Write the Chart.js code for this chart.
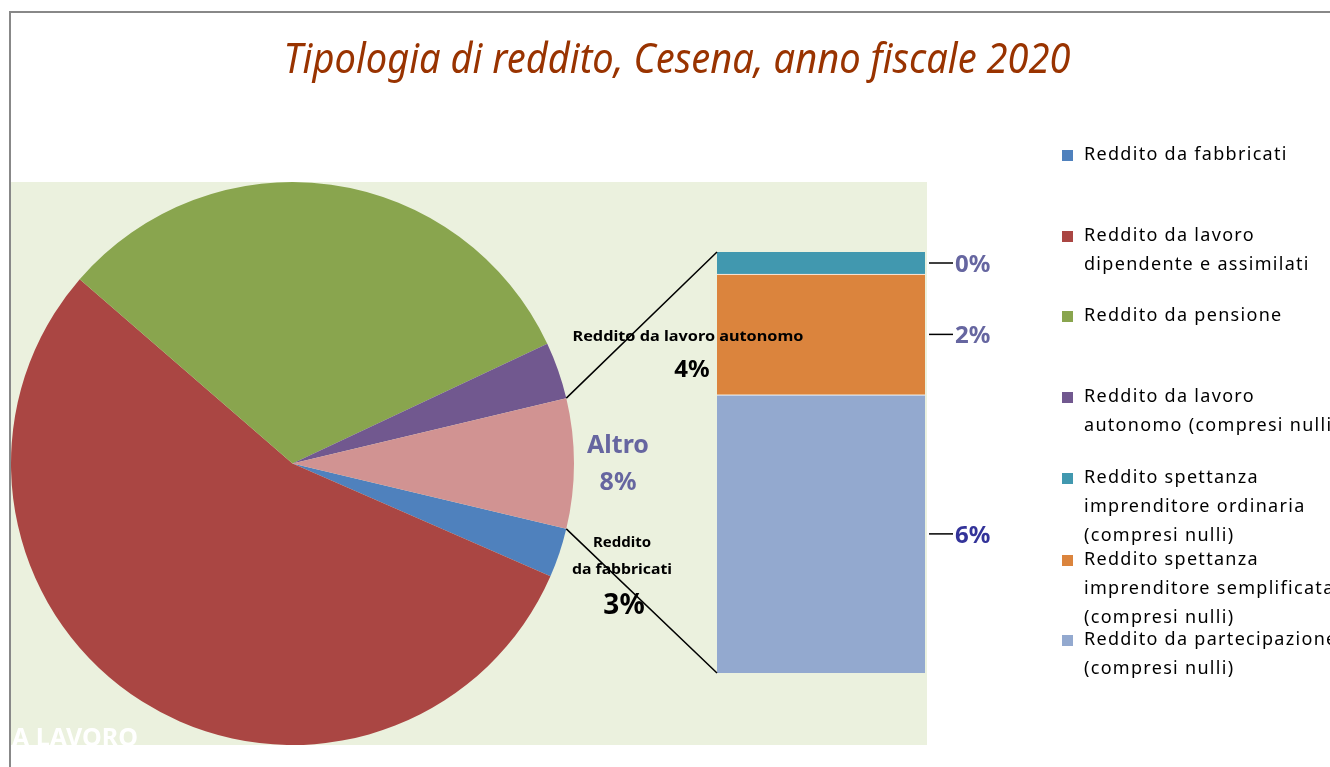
<!DOCTYPE html>
<html>
<head>
<meta charset="utf-8">
<script src="https://cdn.jsdelivr.net/npm/chart.js@4.4.1/dist/chart.umd.min.js"></script>
<style>
  html, body { margin: 0; padding: 0; background: #fff; }
  #wrap { position: relative; width: 1330px; height: 767px; overflow: hidden; }
  #wrap canvas { position: absolute; left: 0; top: 0; }
</style>
</head>
<body>
<div id="wrap">
  <canvas id="barCanvas" width="1330" height="767"></canvas>
  <canvas id="pieCanvas" width="1330" height="767"></canvas>
</div>
<script>
// pie: first four slices, the fifth ("Altro") is the sum of the bar
const pieLabels = ["Reddito da fabbricati", "Reddito da lavoro dipendente e assimilati", "Reddito da pensione", "Reddito da lavoro autonomo", "Altro"];
const pieValues = [2.83, 54.80, 31.65, 3.26];
const pieText = ["3%", "", "", "4%", "8%"];

// bar of "Altro", bottom to top
const barLabels = ["Reddito da partecipazione (compresi nulli)", "Reddito spettanza imprenditore semplificata (compresi nulli)", "Reddito spettanza imprenditore ordinaria (compresi nulli)"];
const barValues = [4.93, 2.14, 0.39];
const barText = ["6%", "2%", "0%"];

const legendItems = [
  ["Reddito da fabbricati"],
  ["Reddito da lavoro", "dipendente e assimilati"],
  ["Reddito da pensione"],
  ["Reddito da lavoro", "autonomo (compresi nulli)"],
  ["Reddito spettanza", "imprenditore ordinaria", "(compresi nulli)"],
  ["Reddito spettanza", "imprenditore semplificata", "(compresi nulli)"],
  ["Reddito da partecipazione", "(compresi nulli)"]
];

const pieColors = ["#4F81BD", "#AA4643", "#89A54E", "#71588F", "#D19392"];
const barColors = ["#93A9CF", "#DB843D", "#4198AF"];
const legendColors = ["#4F81BD", "#AA4643", "#89A54E", "#71588F", "#4198AF", "#DB843D", "#93A9CF"];
const legendY = [155, 236, 316, 397, 478, 560, 640];
const plotBg = "#EBF1DE";
const FONT = "'Noto Sans', 'Open Sans', sans-serif";

const altroTotal = barValues.reduce((a, b) => a + b, 0);

// text helper, squeezes horizontally when a width is given
function drawText(ctx, text, x, y, font, color, align, width) {
  ctx.save();
  ctx.font = font;
  ctx.fillStyle = color;
  ctx.textBaseline = "middle";
  ctx.textAlign = align || "left";
  let s = 1;
  if (width) s = width / ctx.measureText(text).width;
  ctx.translate(x, y);
  ctx.scale(s, 1);
  ctx.fillText(text, 0, 0);
  ctx.restore();
}

const backdrop = {
  id: "backdrop",
  beforeDraw(chart) {
    const ctx = chart.ctx;
    ctx.save();
    ctx.fillStyle = "#fff";
    ctx.fillRect(0, 0, chart.width, chart.height);
    // outer frame
    ctx.strokeStyle = "#888";
    ctx.lineWidth = 2;
    ctx.beginPath();
    ctx.moveTo(10, chart.height);
    ctx.lineTo(10, 12);
    ctx.lineTo(chart.width, 12);
    ctx.stroke();
    // plot area
    ctx.fillStyle = plotBg;
    ctx.fillRect(11, 182, 916, 563);
    ctx.restore();

    drawText(ctx, "Tipologia di reddito, Cesena, anno fiscale 2020", 677, 61,
      "italic 42px " + FONT, "#993300", "center", 787);

    // legend
    legendItems.forEach((lines, i) => {
      ctx.fillStyle = legendColors[i];
      ctx.fillRect(1062, legendY[i] - 5, 11, 11);
      lines.forEach((t, j) => {
        ctx.save();
        ctx.letterSpacing = "1.3px";
        drawText(ctx, t, 1084, legendY[i] + j * 29, "18px " + FONT, "#000", "left");
        ctx.restore();
      });
    });
  }
};

const barChart = new Chart(document.getElementById("barCanvas"), {
  type: "bar",
  data: {
    labels: ["Altro"],
    datasets: barValues.map((v, i) => ({
      label: barLabels[i],
      data: [v],
      backgroundColor: barColors[i],
      borderColor: "#fff",
      borderWidth: i < 2 ? { top: 1, left: 0, right: 0, bottom: 0 } : 0,
      barPercentage: 1,
      categoryPercentage: 1
    }))
  },
  options: {
    responsive: false,
    animation: false,
    layout: { padding: { left: 717, top: 252, right: 405, bottom: 94 } },
    plugins: { legend: { display: false }, tooltip: { enabled: false } },
    scales: {
      x: { display: false, stacked: true },
      y: { display: false, stacked: true, min: 0, max: altroTotal }
    }
  },
  plugins: [backdrop]
});

const overlay = {
  id: "overlay",
  afterDraw(chart) {
    const ctx = chart.ctx;
    const altro = chart.getDatasetMeta(0).data[4];
    const p1 = { x: altro.x + altro.outerRadius * Math.cos(altro.startAngle), y: altro.y + altro.outerRadius * Math.sin(altro.startAngle) };
    const p2 = { x: altro.x + altro.outerRadius * Math.cos(altro.endAngle), y: altro.y + altro.outerRadius * Math.sin(altro.endAngle) };
    const topEl = barChart.getDatasetMeta(2).data[0];
    const botEl = barChart.getDatasetMeta(0).data[0];
    const left = topEl.x - topEl.width / 2;
    const right = topEl.x + topEl.width / 2;

    ctx.save();
    ctx.strokeStyle = "#000";
    ctx.lineWidth = 1.5;
    ctx.beginPath();
    ctx.moveTo(p1.x, p1.y);
    ctx.lineTo(left, topEl.y);
    ctx.moveTo(p2.x, p2.y);
    ctx.lineTo(left, botEl.base);
    ctx.stroke();

    // bar labels with leader lines
    barValues.forEach((v, i) => {
      const el = barChart.getDatasetMeta(i).data[0];
      const cy = (el.y + el.base) / 2;
      ctx.beginPath();
      ctx.moveTo(right + 4, cy);
      ctx.lineTo(right + 28, cy);
      ctx.stroke();
      drawText(ctx, barText[i], right + 30, cy + 2, "bold 24px " + FONT, i === 0 ? "#333399" : "#6666A0", "left");
    });
    ctx.restore();

    // pie labels
    drawText(ctx, "Reddito da lavoro autonomo", 688, 337, "bold 15px " + FONT, "#000", "center", 231);
    drawText(ctx, pieText[3], 692, 370, "bold 24px " + FONT, "#000", "center");
    drawText(ctx, pieLabels[4], 618, 446, "bold 25px " + FONT, "#6666A0", "center");
    drawText(ctx, pieText[4], 618, 483, "bold 25px " + FONT, "#6666A0", "center");
    drawText(ctx, "Reddito", 622, 543, "bold 15px " + FONT, "#000", "center");
    drawText(ctx, "da fabbricati", 622, 570, "bold 15px " + FONT, "#000", "center", 100);
    drawText(ctx, pieText[0], 624, 606, "bold 28px " + FONT, "#000", "center");

    // clipped category label at the bottom of the plot area
    ctx.save();
    ctx.beginPath();
    ctx.rect(11, 182, 916, 563);
    ctx.clip();
    ctx.font = "bold 25px " + FONT;
    ctx.fillStyle = "#fff";
    ctx.textBaseline = "alphabetic";
    ctx.fillText("A LAVORO", 12, 746);
    ctx.restore();
  }
};

const pieChart = new Chart(document.getElementById("pieCanvas"), {
  type: "pie",
  data: {
    labels: pieLabels,
    datasets: [{
      data: pieValues.concat([altroTotal]),
      backgroundColor: pieColors,
      borderWidth: 0
    }]
  },
  options: {
    responsive: false,
    animation: false,
    rotation: 90 + altroTotal / 100 * 180,
    layout: { padding: { left: 11, top: 182, right: 756, bottom: 22 } },
    plugins: { legend: { display: false }, tooltip: { enabled: false } }
  },
  plugins: [overlay]
});
</script>
</body>
</html>
